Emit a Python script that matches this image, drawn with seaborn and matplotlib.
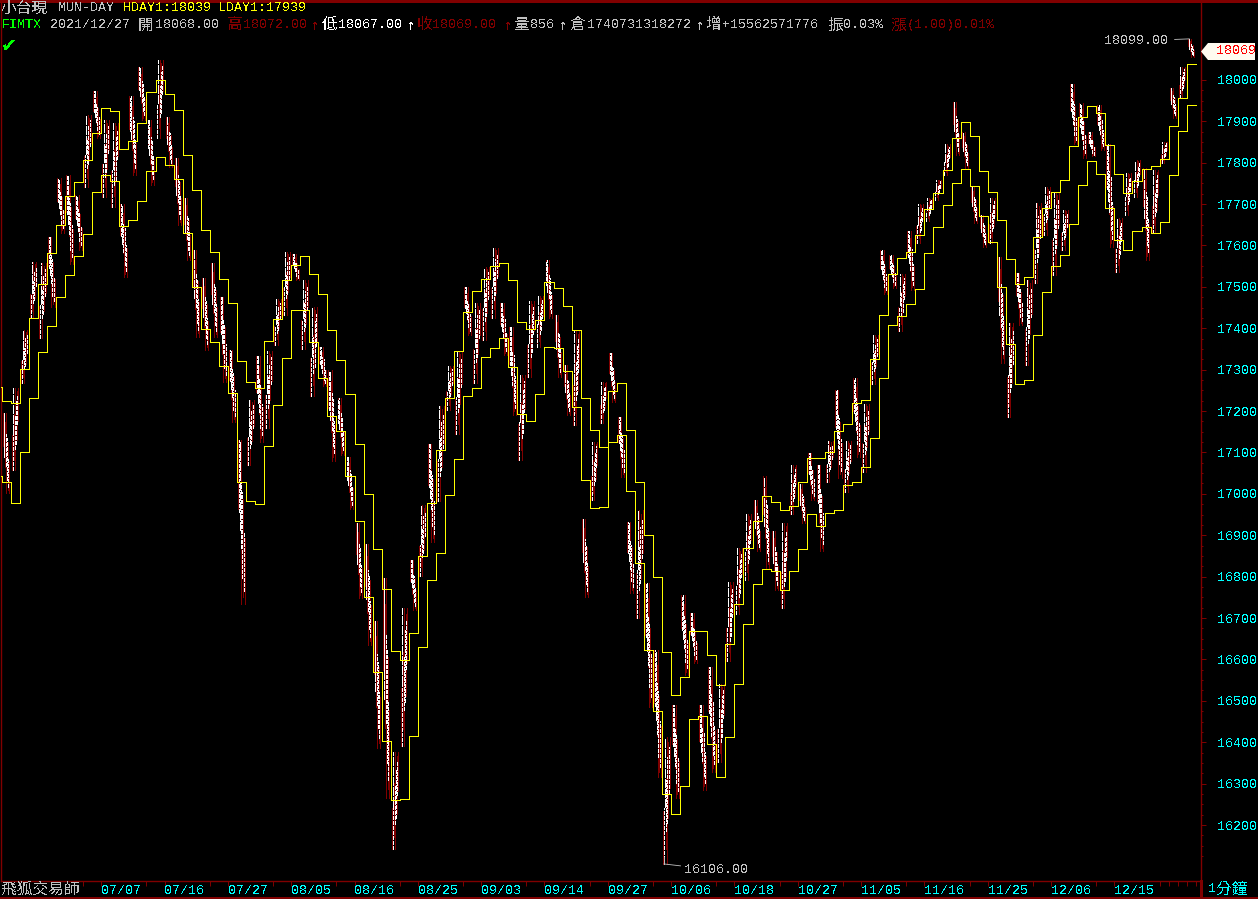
import numpy as np
import pandas as pd
import seaborn as sns
import matplotlib
matplotlib.use('Agg')
import matplotlib.pyplot as plt
from matplotlib.lines import Line2D
from matplotlib.patches import Polygon

# previous-day high / low step lines
hday = [17258, 17224, 17219, 17301, 17425, 17507, 17582, 17650, 17720, 17753, 17807, 17872, 17932, 17925,
        17833, 17853, 17896, 17971, 18000, 17966, 17927, 17819, 17734, 17637, 17584, 17519, 17461, 17321,
        17270, 17256, 17369, 17422, 17517, 17552, 17575, 17531, 17483, 17395, 17323, 17241, 17120, 16999,
        16866, 16770, 16620, 16599, 16664, 16850, 16979, 17107, 17231, 17345, 17439, 17490, 17519, 17550,
        17558, 17517, 17415, 17398, 17420, 17512, 17497, 17454, 17396, 17231, 17154, 17113, 17248, 17268,
        17154, 17028, 16900, 16799, 16617, 16514, 16557, 16668, 16668, 16610, 16538, 16637, 16733, 16869,
        16934, 16994, 16980, 16961, 16970, 17028, 17086, 17086, 17101, 17152, 17169, 17219, 17227, 17326,
        17432, 17531, 17570, 17584, 17625, 17687, 17727, 17783, 17860, 17898, 17865, 17780, 17729, 17662,
        17567, 17507, 17524, 17621, 17691, 17729, 17758, 17840, 17911, 17937, 17920, 17843, 17773, 17727,
        17756, 17785, 17792, 17809, 17889, 17956, 18039]
lday = [17043, 17028, 16978, 17101, 17231, 17343, 17405, 17476, 17529, 17575, 17628, 17729, 17770, 17756,
        17647, 17662, 17708, 17780, 17814, 17795, 17761, 17630, 17500, 17398, 17367, 17309, 17243, 17028,
        16982, 16975, 17115, 17214, 17328, 17445, 17443, 17366, 17279, 17188, 17151, 17042, 16934, 16750,
        16569, 16404, 16260, 16262, 16415, 16630, 16791, 16856, 16997, 17084, 17236, 17256, 17330, 17352,
        17376, 17306, 17193, 17176, 17241, 17355, 17352, 17297, 17210, 17033, 16966, 16968, 17125, 17142,
        17007, 16833, 16622, 16475, 16274, 16226, 16294, 16456, 16463, 16395, 16315, 16412, 16540, 16685,
        16782, 16818, 16813, 16768, 16813, 16866, 16951, 16922, 16953, 16961, 17021, 17028, 17065, 17135,
        17280, 17408, 17430, 17459, 17495, 17582, 17645, 17698, 17751, 17785, 17744, 17671, 17608, 17500,
        17362, 17265, 17275, 17384, 17488, 17550, 17577, 17652, 17746, 17804, 17773, 17691, 17613, 17589,
        17635, 17645, 17630, 17657, 17770, 17877, 17939]

# session range of the minute bars, one pair per day
day_high = [16978, 17196, 17256, 17396, 17561, 17558, 17621, 17764, 17771, 17723, 17916, 17972, 17904, 17897,
            17699, 17960, 18030, 17904, 18049, 17911, 17812, 17715, 17590, 17522, 17558, 17476, 17348, 17131,
            17227, 17334, 17346, 17471, 17585, 17580, 17517, 17452, 17355, 17300, 17232, 17089, 16930, 16879,
            16693, 16797, 16376, 16724, 16840, 16973, 17121, 17213, 17309, 17346, 17500, 17462, 17549, 17595,
            17462, 17404, 17288, 17466, 17479, 17566, 17433, 17312, 17396, 16940, 17126, 17271, 17341, 17186,
            16932, 16961, 16785, 16623, 16413, 16490, 16756, 16712, 16490, 16582, 16541, 16787, 16869, 16952,
            16985, 17044, 16911, 16930, 17070, 17024, 17099, 17070, 17128, 17251, 17128, 17280, 17218, 17384,
            17590, 17578, 17532, 17636, 17701, 17715, 17759, 17844, 17947, 17875, 17742, 17674, 17715, 17573,
            17413, 17534, 17517, 17703, 17742, 17730, 17686, 17989, 17945, 17873, 17940, 17844, 17667, 17776,
            17807, 17788, 17783, 17851, 17981, 18032, 18099]
day_low = [16942, 17002, 17058, 17268, 17425, 17377, 17452, 17631, 17554, 17590, 17742, 17860, 17718, 17694,
           17525, 17771, 17904, 17747, 17860, 17790, 17650, 17566, 17379, 17348, 17379, 17271, 17174, 16734,
           17070, 17126, 17160, 17360, 17433, 17517, 17350, 17237, 17261, 17080, 17094, 16964, 16749, 16635,
           16386, 16265, 16142, 16391, 16720, 16802, 16884, 16983, 17203, 17145, 17384, 17268, 17372, 17425,
           17336, 17191, 17082, 17283, 17355, 17425, 17283, 17191, 17167, 16751, 16985, 17172, 17222, 17041,
           16761, 16700, 16485, 16316, 16106, 16265, 16563, 16592, 16285, 16328, 16352, 16596, 16710, 16792,
           16862, 16821, 16768, 16724, 16952, 16930, 16985, 16862, 17029, 17039, 17005, 17089, 17053, 17266,
           17483, 17498, 17394, 17493, 17607, 17660, 17711, 17769, 17819, 17788, 17655, 17597, 17607, 17317,
           17186, 17408, 17312, 17510, 17626, 17529, 17590, 17844, 17812, 17815, 17831, 17597, 17537, 17674,
           17718, 17566, 17631, 17800, 17909, 17957, 18056]
# which way the session went: +1 up, -1 down
day_dir = [-1, -1, 1, 1, 1, 1, -1, -1, -1, -1, 1, -1, 1, 1, -1, -1, -1, -1, 1, -1, -1, -1, -1, -1, -1, -1, -1,
           -1, 1, -1, 1, 1, 1, -1, 1, 1, -1, -1, -1, -1, -1, -1, -1, -1, 1, 1, -1, 1, -1, 1, 1, 1, -1, 1, 1, 1,
           -1, -1, 1, 1, 1, -1, -1, -1, 1, -1, 1, 1, -1, -1, -1, 1, -1, -1, 1, -1, -1, -1, -1, -1, 1, 1, 1, 1,
           -1, -1, -1, 1, 1, -1, -1, -1, 1, -1, 1, -1, 1, 1, -1, -1, 1, -1, 1, 1, 1, 1, -1, -1, -1, -1, 1, -1,
           1, -1, 1, 1, 1, 1, 1, -1, -1, -1, -1, -1, 1, 1, 1, -1, 1, 1, -1, 1, -1]

date_labels = ['07/07', '07/16', '07/27', '08/05', '08/16', '08/25', '09/03', '09/14', '09/27',
               '10/06', '10/18', '10/27', '11/05', '11/16', '11/25', '12/06', '12/15']
price_ticks = list(range(16200, 18001, 100))

BG = '#000000'
RED = '#800000'
CYAN = '#00FFFF'
GRAY = '#C0C0C0'
YELLOW = '#FFFF00'
LATIN = ['Liberation Mono', 'Noto Sans CJK TC', 'DejaVu Sans']
CJK = ['Noto Sans CJK TC', 'DejaVu Sans']

sns.set_theme(style='dark', rc={'figure.facecolor': BG, 'axes.facecolor': BG, 'axes.grid': False,
                                'text.antialiased': False, 'lines.antialiased': False})
plt.rcParams['font.family'] = LATIN
plt.rcParams['font.size'] = 9.6


def px(x, y):
    return x / 1258, 1 - y / 899


fig = plt.figure(figsize=(12.58, 8.99), dpi=100)
left, top = px(1, 1)
right, bottom = px(1200.5, 880.5)
ax = fig.add_axes([left, bottom, right - left, top - bottom])

steps = pd.DataFrame({'day': np.arange(len(hday) + 1),
                      'hday': hday + hday[-1:],
                      'lday': lday + lday[-1:]})
sns.lineplot(data=steps, x='day', y='hday', drawstyle='steps-post', color=YELLOW, linewidth=0.5,
             errorbar=None, ax=ax, zorder=4)
sns.lineplot(data=steps, x='day', y='lday', drawstyle='steps-post', color=YELLOW, linewidth=0.5,
             errorbar=None, ax=ax, zorder=4)

# minute bars squeezed into pixel columns per day, drifting from open to close
days = np.arange(len(day_high))
hi = np.array(day_high, dtype=float)
lo = np.array(day_low, dtype=float)
up = np.array(day_dir)
span = hi - lo
opn = np.where(up > 0, lo, hi)
cls = np.where(up > 0, hi, lo)
# full range wick, mostly red with white on the upper part
ax.vlines(days + 0.5, lo, hi, color=RED, linewidth=0.55, zorder=2)
ax.vlines(days + 0.3, lo + span * 0.45, hi, color='white', linewidth=0.55, zorder=3,
          linestyles=[(0, (11, 2))])
columns = [(0.12, 0.30, RED), (0.22, 0.22, 'white'), (0.40, 0.28, RED), (0.46, 0.20, 'white'),
           (0.58, 0.26, 'white'), (0.66, 0.30, RED), (0.74, 0.18, 'white'), (0.84, 0.24, RED)]
for pos, half, colour in columns:
    centre = opn + (cls - opn) * pos
    # keep each column inside the day's range
    low_end = np.maximum(centre - span * half, lo)
    high_end = np.minimum(centre + span * half, hi)
    style = 'solid' if colour == RED else (0, (4, 1.5))
    ax.vlines(days + pos, low_end, high_end, color=colour, linewidth=0.55, linestyles=[style],
              zorder=3 if colour == 'white' else 2)

# 9.045 px per day, 2.417 points per px
ax.set_xlim(0.92, 133.52)
ax.set_ylim(16066, 18190.5)
ax.set(xlabel='', ylabel='')

for s in ax.spines.values():
    s.set_color(RED)
    s.set_linewidth(1)

label_days = [12 + 7 * n for n in range(len(date_labels))]
minor_days = [d for d in range(10, 134) if (d - 5) % 7 in (0, 5) or d >= 129]
ax.set_xticks(label_days, date_labels)
ax.set_xticks(minor_days, minor=True)
ax.tick_params(axis='x', which='both', bottom=True, length=3.6, width=0.7, color=RED)
ax.tick_params(axis='x', which='major', labelcolor=CYAN, labelsize=9.6, pad=-0.5)
for t in ax.get_xticklabels():
    t.set_ha('left')

ax.yaxis.tick_right()
ax.set_yticks(price_ticks, [str(p) for p in price_ticks])
ax.set_yticks([p for p in range(16125, 18000, 25) if p % 100], minor=True)
ax.tick_params(axis='y', which='major', right=True, length=3.6, width=0.7, color=RED,
               labelcolor=CYAN, labelsize=9.6, pad=8)
ax.tick_params(axis='y', which='minor', right=True, length=1.6, width=0.7, color=RED)

# high / low call-outs
ax.annotate('18099.00', xy=(132.3, 18099), xytext=(-21, -2), textcoords='offset pixels', color=GRAY,
            ha='right', va='center', fontsize=9.6, zorder=6,
            arrowprops=dict(arrowstyle='-', color=GRAY, lw=0.6, shrinkA=2, shrinkB=0))
ax.plot([74.2, 74.2], [16106, 16122], color=GRAY, linewidth=0.6, zorder=6)
ax.annotate('16106.00', xy=(74.2, 16106), xytext=(20, -6), textcoords='offset pixels', color=GRAY,
            ha='left', va='center', fontsize=9.6, zorder=6,
            arrowprops=dict(arrowstyle='-', color=GRAY, lw=0.6, shrinkA=0, shrinkB=0))

# outer frame of the bottom strip and right column
fig.add_artist(Line2D([0, 1], [px(0, 897.5)[1]] * 2, color=RED, linewidth=1, transform=fig.transFigure))
fig.add_artist(Line2D([px(1200.5, 0)[0]] * 2, [px(0, 880)[1], px(0, 897.5)[1]], color=RED, linewidth=1,
                      transform=fig.transFigure))
fig.add_artist(Line2D([0, 1], [px(0, 0.7)[1]] * 2, color=RED, linewidth=1, transform=fig.transFigure))

# last price flag
tag = [px(1201, 51.5), px(1208, 43), px(1255, 43), px(1255, 60), px(1208, 60)]
fig.add_artist(Polygon(tag, closed=True, facecolor='#FFFBF0', edgecolor='none', transform=fig.transFigure))
fig.text(*px(1216, 51.5), '18069', color='#FF0000', fontsize=9.6, va='center', ha='left')

# quote header: (text, left edge px, row centre px, colour, font kind)
header = [
    ('小台現', 1, 8, GRAY, 'cjk'),
    ('MUN-DAY', 58, 8, GRAY, 'latin'),
    ('HDAY1:18039', 123, 8, YELLOW, 'latin'),
    ('LDAY1:17939', 219, 8, YELLOW, 'latin'),
    ('FIMTX', 2, 25, '#00FF00', 'latin'),
    ('2021/12/27', 50, 25, GRAY, 'latin'),
    ('開', 138, 25, GRAY, 'cjk'),
    ('18068.00', 155, 25, GRAY, 'latin'),
    ('高', 227, 25, RED, 'cjk'),
    ('18072.00', 243, 25, RED, 'latin'),
    ('↑', 310, 25, RED, 'arrow'),
    ('低', 322, 25, 'white', 'cjk'),
    ('18067.00', 338, 25, 'white', 'latin'),
    ('↑', 406, 25, 'white', 'arrow'),
    ('收', 417, 25, RED, 'cjk'),
    ('18069.00', 432, 25, RED, 'latin'),
    ('↑', 503, 25, RED, 'arrow'),
    ('量', 514, 25, GRAY, 'cjk'),
    ('856', 530, 25, GRAY, 'latin'),
    ('↑', 558, 25, GRAY, 'arrow'),
    ('倉', 570, 25, GRAY, 'cjk'),
    ('1740731318272', 587, 25, GRAY, 'latin'),
    ('↑', 695, 25, GRAY, 'arrow'),
    ('增', 706, 25, GRAY, 'cjk'),
    ('+15562571776', 722, 25, GRAY, 'latin'),
    ('振', 828, 25, GRAY, 'cjk'),
    ('0.03%', 843, 25, GRAY, 'latin'),
    ('漲', 891, 25, RED, 'cjk'),
    ('(1.00)0.01%', 907, 25, RED, 'latin'),
    ('飛狐交易師', 1, 889, GRAY, 'cjk'),
    ('1', 1208, 889, CYAN, 'latin'),
    ('分鐘', 1216, 889, CYAN, 'cjk'),
]
fonts = {'latin': (LATIN, 9.6), 'cjk': (CJK, 11.3), 'arrow': (['DejaVu Sans Mono'], 11)}
for text, x, y, colour, kind in header:
    fig.text(*px(x, y), text, color=colour, va='center', ha='left',
             family=fonts[kind][0], fontsize=fonts[kind][1])
fig.text(*px(1, 47), '✔', color='#00FF00', va='center', ha='left', family='DejaVu Sans', fontsize=14)

fig.savefig('out.png', dpi=100, facecolor=BG)
